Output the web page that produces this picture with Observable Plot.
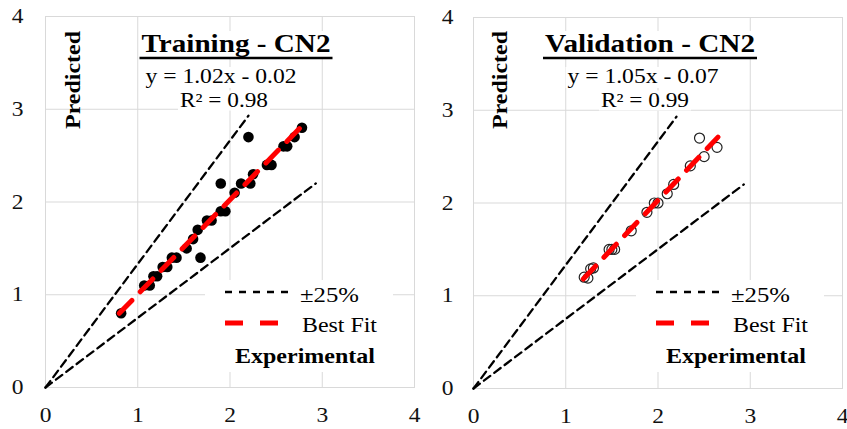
<!DOCTYPE html>
<html>
<head>
<meta charset="utf-8">
<script src="https://cdn.jsdelivr.net/npm/d3@7"></script>
<script src="https://cdn.jsdelivr.net/npm/@observablehq/plot@0.6"></script>
<style>
  html, body { margin: 0; padding: 0; background: #fff; }
  #wrap { display: flex; width: 847px; height: 429px; }
</style>
</head>
<body>
<div id="wrap"></div>
<script>
// ---------- data ----------
const tickValues = [0, 1, 2, 3, 4];
const gridValues = [1, 2, 3];

const trainX = [0.82, 1.07, 1.13, 1.17, 1.21, 1.27, 1.32, 1.37, 1.42, 1.53, 1.60, 1.65, 1.68, 1.75, 1.80, 1.90, 1.95, 1.90, 2.05, 2.12, 2.22, 2.25, 2.40, 2.45, 2.58, 2.62, 2.70, 2.78, 2.20];
const trainY = [0.80, 1.10, 1.10, 1.20, 1.20, 1.30, 1.30, 1.40, 1.40, 1.50, 1.60, 1.70, 1.40, 1.80, 1.80, 1.90, 1.90, 2.20, 2.10, 2.20, 2.20, 2.30, 2.40, 2.40, 2.60, 2.60, 2.70, 2.80, 2.70];

const validX = [1.20, 1.24, 1.27, 1.30, 1.47, 1.50, 1.53, 1.71, 1.88, 1.96, 2.00, 2.10, 2.17, 2.35, 2.45, 2.50, 2.64];
const validY = [1.20, 1.19, 1.29, 1.30, 1.50, 1.50, 1.50, 1.70, 1.90, 2.00, 2.00, 2.10, 2.20, 2.40, 2.70, 2.50, 2.60];

const trainFitX = [0.80, 2.80];
const trainFitY = [0.80, 2.84];
const validFitX = [1.19, 2.65];
const validFitY = [1.18, 2.71];

const upperBoundX = [0, 2.20];
const upperBoundY = [0, 2.93];
const lowerBoundX = [0, 2.93];
const lowerBoundY = [0, 2.20];

const panelTitles = ["Training - CN2", "Validation - CN2"];
const equations = ["y = 1.02x - 0.02", "y = 1.05x - 0.07"];
const r2Labels = ["R² = 0.98", "R² = 0.99"];
const legendLabels = ["±25%", "Best Fit"];
const xAxisLabel = "Experimental";
const yAxisLabel = "Predicted";

// ---------- drawing ----------
const FONT = "'Liberation Serif', Tinos, 'Times New Roman', Times, serif";
const toPts = (xs, ys) => xs.map((x, i) => ({x, y: ys[i]}));

function makePanel(cfg) {
  return Plot.plot({
    width: cfg.width, height: 429,
    marginLeft: cfg.ml, marginRight: cfg.mr, marginTop: cfg.mt, marginBottom: cfg.mb,
    style: {fontFamily: FONT, fontSize: "21px", color: "#111", background: "#fff", overflow: "visible"},
    x: {domain: [0, 4], ticks: tickValues, tickSize: 0, tickPadding: 20, tickFormat: d => String(d), label: null},
    y: {domain: [0, 4], ticks: tickValues, tickSize: 0, tickPadding: cfg.yPad, tickFormat: d => String(d), label: null},
    marks: [
      Plot.gridX(gridValues, {stroke: "#d9d9d9", strokeOpacity: 1, strokeWidth: 1}),
      Plot.gridY(gridValues, {stroke: "#d9d9d9", strokeOpacity: 1, strokeWidth: 1}),
      Plot.frame({stroke: "#d9d9d9", strokeWidth: 1}),
      Plot.line(toPts(upperBoundX, upperBoundY), {x: "x", y: "y", stroke: "#000", strokeWidth: 2.3, strokeDasharray: "8,5"}),
      Plot.line(toPts(lowerBoundX, lowerBoundY), {x: "x", y: "y", stroke: "#000", strokeWidth: 2.3, strokeDasharray: "8,5"}),
      cfg.filled
        ? Plot.dot(cfg.pts, {x: "x", y: "y", r: 5.3, fill: "#000", stroke: "none"})
        : Plot.dot(cfg.pts, {x: "x", y: "y", r: 5, fill: "none", stroke: "#222", strokeWidth: 1.2}),
      Plot.line(cfg.fit, {x: "x", y: "y", stroke: "#ff0000", strokeWidth: 5, strokeDasharray: "18,12"})
    ]
  });
}

function annotate(svg, a) {
  // widen tick labels slightly, as in the reference
  d3.select(svg).selectAll("g[aria-label$='tick label'] text").each(function () {
    const t = this.getAttribute("transform") || "";
    this.setAttribute("transform", t + " scale(1.12,1)");
  });
  const g = d3.select(svg).append("g").attr("font-family", FONT).attr("fill", "#000").attr("text-anchor", "start");
  function addText(x, y, txt, size, weight, anchor, len, boxed) {
    const bg = boxed ? g.append("rect").attr("fill", "#fff") : null;
    const t = g.append("text").attr("x", x).attr("y", y).attr("font-size", size)
      .attr("font-weight", weight).attr("text-anchor", anchor).text(txt);
    if (len) t.attr("textLength", len).attr("lengthAdjust", "spacingAndGlyphs");
    const b = t.node().getBBox();
    if (bg) bg.attr("x", b.x - 2).attr("y", b.y + 2).attr("width", b.width + 4).attr("height", b.height - 2);
    return b;
  }
  const tb = addText(a.titleX, 52, a.title, 26, "bold", "middle", a.titleLen, true);
  g.append("line").attr("x1", tb.x - 2).attr("x2", tb.x + tb.width + 2).attr("y1", 58).attr("y2", 58)
    .attr("stroke", "#000").attr("stroke-width", 2.3);
  addText(a.eqX, 83, a.eq, 20, "normal", "middle", 151, true);
  addText(a.r2X, 106.5, a.r2, 20, "normal", "middle", 88, true);
  g.append("text").attr("transform", `translate(${a.predX},80) rotate(-90)`)
    .attr("text-anchor", "middle").attr("dominant-baseline", "central")
    .attr("font-size", 22).attr("font-weight", "bold")
    .attr("textLength", 98).attr("lengthAdjust", "spacingAndGlyphs").text(yAxisLabel);
  // legend
  g.append("rect").attr("x", a.legX - 20).attr("y", 280).attr("width", 188).attr("height", 92).attr("fill", "#fff");
  g.append("line").attr("x1", a.legX).attr("x2", a.legX + 63).attr("y1", 292).attr("y2", 292)
    .attr("stroke", "#000").attr("stroke-width", 2.3).attr("stroke-dasharray", "7,7");
  addText(a.legX + 75, 302, legendLabels[0], 20, "normal", "start", 59, false);
  g.append("line").attr("x1", a.legX).attr("x2", a.legX + 56).attr("y1", 323).attr("y2", 323)
    .attr("stroke", "#ff0000").attr("stroke-width", 5).attr("stroke-dasharray", "18,17");
  addText(a.legX + 77, 332, legendLabels[1], 20, "normal", "start", 75, false);
  addText(a.legX + 80, 363, xAxisLabel, 22, "bold", "middle", 140, false);
}

const wrap = document.getElementById("wrap");

const left = makePanel({width: 423, ml: 45, mr: 9, mt: 16, mb: 42, yPad: 22, filled: true,
  pts: toPts(trainX, trainY), fit: toPts(trainFitX, trainFitY)});
wrap.appendChild(left);
annotate(left, {title: panelTitles[0], eq: equations[0], r2: r2Labels[0], titleLen: 189,
  titleX: 236, eqX: 221, r2X: 224, predX: 72, legX: 225});

const right = makePanel({width: 424, ml: 50, mr: 5, mt: 17, mb: 41, yPad: 20, filled: false,
  pts: toPts(validX, validY), fit: toPts(validFitX, validFitY)});
wrap.appendChild(right);
annotate(right, {title: panelTitles[1], eq: equations[1], r2: r2Labels[1], titleLen: 210,
  titleX: 227, eqX: 220, r2X: 222, predX: 76, legX: 233});
</script>
</body>
</html>
